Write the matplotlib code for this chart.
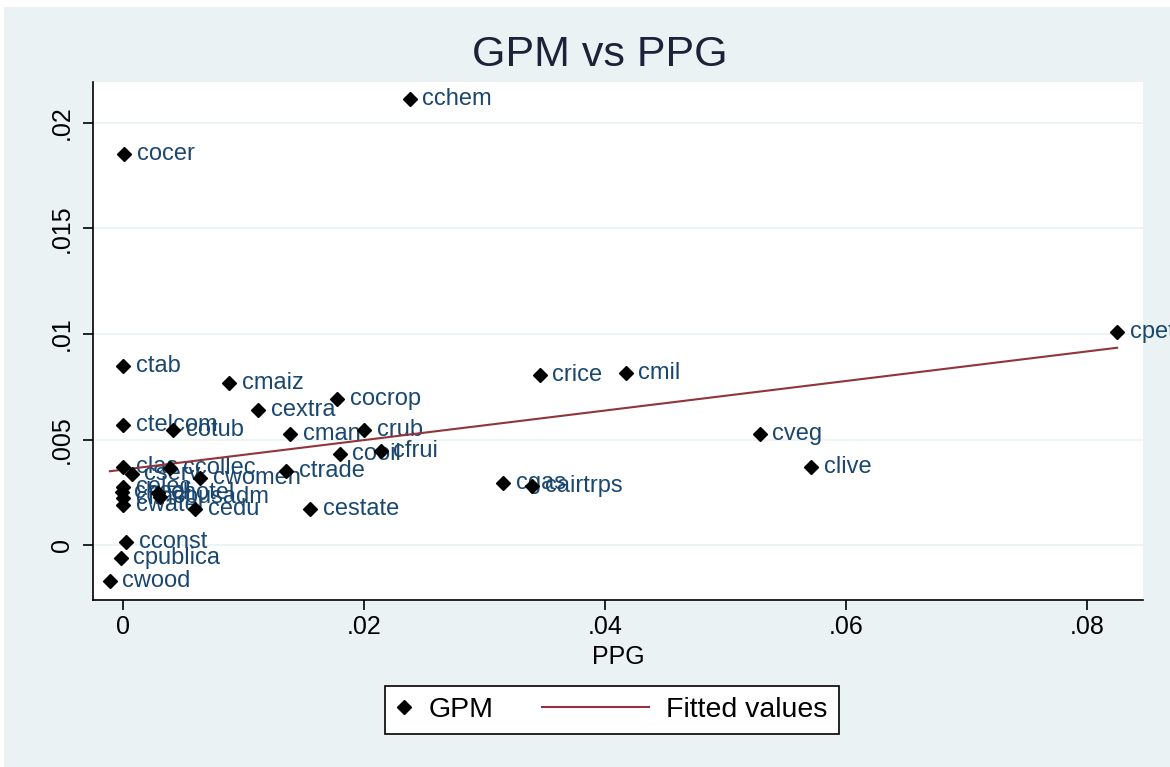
import matplotlib.pyplot as plt
from matplotlib.lines import Line2D
from matplotlib.patches import Rectangle
from matplotlib.legend_handler import HandlerLine2D

plt.rcParams['font.family'] = ['Liberation Sans', 'DejaVu Sans']

# sector labels, PPG (x) and GPM (y)
names = ['cchem', 'cocer', 'cpetro', 'ctab', 'cmaiz', 'cocrop', 'cextra',
         'crice', 'cmil', 'ctelcom', 'cotub', 'cman', 'crub', 'cveg',
         'cooil', 'cfrui', 'clive', 'cgas', 'cairtrps', 'ctrade',
         'cestate', 'cedu', 'cconst', 'cpublica', 'cwood',
         'clas', 'ccollec', 'cserv', 'cwomen', 'celec', 'cheal',
         'cfin', 'chotel', 'cbusadm', 'cwater']
ppg = [0.0238, 0.0001, 0.0825, 0.0, 0.0088, 0.01776, 0.0112,
       0.0346, 0.0417, 0.0, 0.00415, 0.01386, 0.0200, 0.05286,
       0.0180, 0.0214, 0.0571, 0.03154, 0.03394, 0.01353,
       0.01552, 0.0060, 0.00025, -0.0002, -0.0011,
       0.0, 0.0039, 0.0007, 0.0064, 0.0, -0.0001,
       0.0, 0.0029, 0.0031, 0.0]
gpm = [0.02114, 0.01853, 0.01009, 0.00848, 0.00768, 0.00692, 0.0064,
       0.00806, 0.00815, 0.00569, 0.00545, 0.00526, 0.00545, 0.00526,
       0.00431, 0.00445, 0.0037, 0.00294, 0.0028, 0.00351,
       0.00171, 0.00171, 0.00014, -0.00062, -0.00171,
       0.0037, 0.00365, 0.00336, 0.00318, 0.00275, 0.0025,
       0.00225, 0.00246, 0.0023, 0.0019]

# fitted line end points (min and max PPG)
fit_x = [-0.0011, 0.0825]
fit_y = [0.00350, 0.00935]

xticks = [0, 0.02, 0.04, 0.06, 0.08]
xticklabels = ['0', '.02', '.04', '.06', '.08']
yticks = [0, 0.005, 0.01, 0.015, 0.02]
yticklabels = ['0', '.005', '.01', '.015', '.02']

bg = '#eaf2f3'
navy = '#1a476f'
maroon = '#90353b'


class ShortHandler(HandlerLine2D):
    # narrow handle box for the marker entry
    def legend_artist(self, legend, orig_handle, fontsize, handlebox):
        handlebox.width = fontsize * 0.55
        return super().legend_artist(legend, orig_handle, fontsize, handlebox)


fig = plt.figure(figsize=(11.7, 7.67), dpi=100, facecolor=bg)
# thin white border at top and left like the screenshot
fig.patches.append(Rectangle((0, 1 - 7 / 767), 1, 7 / 767, transform=fig.transFigure,
                             facecolor='white', edgecolor='none'))
fig.patches.append(Rectangle((0, 0), 4 / 1170, 1, transform=fig.transFigure,
                             facecolor='white', edgecolor='none'))

ax = fig.add_axes([93 / 1170, 1 - 600 / 767, 1050 / 1170, 518 / 767])
ax.set_facecolor('white')

ax.plot(ppg, gpm, 'D', color='black', ms=7, zorder=3)
for n, x, y in zip(names, ppg, gpm):
    ax.annotate(n, (x, y), xytext=(9, 0), textcoords='offset points',
                va='center', ha='left', fontsize=17, color=navy,
                annotation_clip=False, zorder=2)
ax.plot(fit_x, fit_y, color=maroon, lw=1.5, zorder=2)

ax.set_xlim(-0.0025, 0.08465)
ax.set_ylim(-0.0026, 0.02194)
ax.set_xticks(xticks)
ax.set_xticklabels(xticklabels, fontsize=18)
ax.set_yticks(yticks)
ax.set_yticklabels(yticklabels, fontsize=18, rotation=90, va='center')
ax.tick_params(direction='out', length=7, width=1.2)
ax.tick_params(axis='x', pad=4)
ax.tick_params(axis='y', pad=7)
ax.grid(axis='y', color=bg, lw=1.2, zorder=0)
ax.set_axisbelow(True)

for s in ['top', 'right']:
    ax.spines[s].set_visible(False)
for s in ['left', 'bottom']:
    ax.spines[s].set_linewidth(1.2)

ax.set_xlabel('PPG', fontsize=18, labelpad=4)
fig.text(0.513, 1 - 55 / 767, 'GPM vs PPG', ha='center', va='center', fontsize=31, color='#1e2238')

h_pts = Line2D([], [], marker='D', color='black', ls='none', ms=7)
h_fit = Line2D([], [], color=maroon, lw=1.5)
leg = fig.legend([h_pts, h_fit], ['GPM', 'Fitted values'], loc='center', ncol=2,
                 bbox_to_anchor=(612 / 1170, 1 - 710 / 767), fontsize=20.5,
                 frameon=True, fancybox=False, edgecolor='black', facecolor='white',
                 framealpha=1, handlelength=3.75, handletextpad=0.6,
                 columnspacing=1.7, borderpad=0.4,
                 handler_map={h_pts: ShortHandler()})
leg.get_frame().set_linewidth(1.2)

fig.savefig('out.png', dpi=100, facecolor=bg)
